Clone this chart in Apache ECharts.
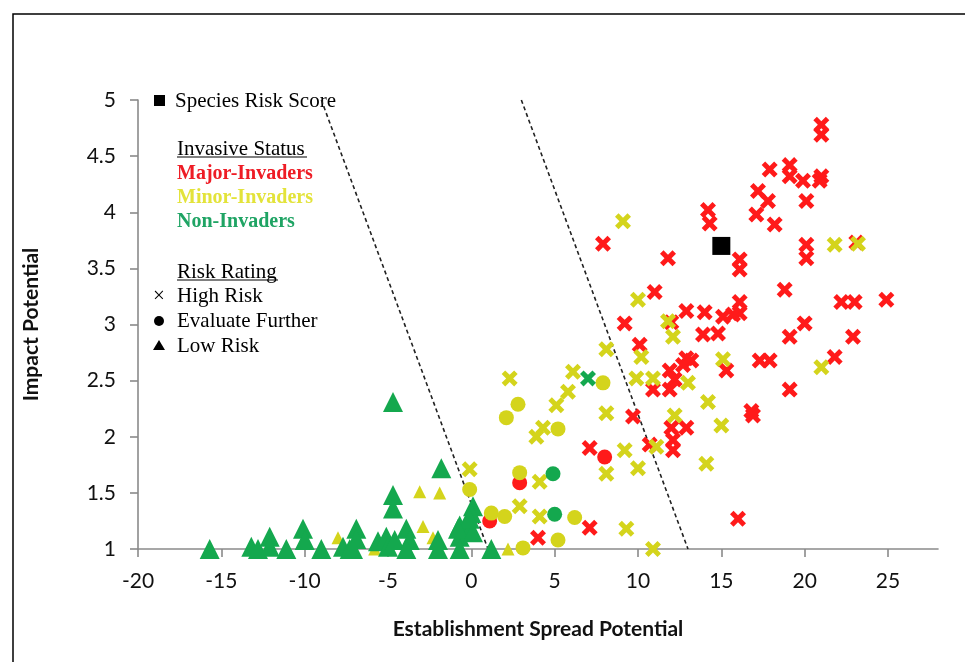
<!DOCTYPE html>
<html>
<head>
<meta charset="utf-8">
<script src="https://cdn.jsdelivr.net/npm/echarts@6/dist/echarts.min.js"></script>
<style>
html,body{margin:0;padding:0;background:#fff;}
#chart{width:965px;height:662px;}
</style>
</head>
<body>
<div id="chart"></div>
<script>
// ---- tick labels ----
const xTicks = [-20, -15, -10, -5, 0, 5, 10, 15, 20, 25];
const yTicks = [1, 1.5, 2, 2.5, 3, 3.5, 4, 4.5, 5];

// ---- threshold lines ----
const lowerThreshold = [[-9, 5], [1, 1]];
const upperThreshold = [[3, 5], [13, 1]];

// ---- species risk score ----
const speciesScore = [[15.0, 3.70]];

// ---- Major-Invaders ----
const majorHigh = [
  [21.0, 4.78], [21.0, 4.69], [17.9, 4.38], [19.1, 4.42], [19.1, 4.32], [19.9, 4.28],
  [21.0, 4.32], [20.9, 4.28], [17.2, 4.19], [17.8, 4.10], [20.1, 4.10], [17.1, 3.98],
  [18.2, 3.89], [14.2, 4.02], [14.3, 3.90], [7.9, 3.72], [11.8, 3.59], [16.1, 3.58],
  [16.1, 3.49], [20.1, 3.71], [20.1, 3.59], [11.0, 3.29], [18.8, 3.31], [16.1, 3.20],
  [16.1, 3.10], [22.2, 3.20], [23.0, 3.20], [24.9, 3.22], [9.2, 3.01], [12.9, 3.12],
  [14.0, 3.11], [15.1, 3.07], [15.7, 3.09], [13.9, 2.91], [14.8, 2.92], [20.0, 3.01],
  [19.1, 2.89], [22.9, 2.89], [10.1, 2.82], [21.8, 2.71], [12.9, 2.70], [13.2, 2.68],
  [12.7, 2.64], [17.3, 2.68], [17.9, 2.68], [15.3, 2.59], [11.9, 2.59], [12.0, 3.02],
  [12.2, 2.51], [11.9, 2.42], [10.9, 2.42], [19.1, 2.42], [9.7, 2.18], [16.8, 2.23],
  [16.9, 2.19], [12.0, 2.08], [12.9, 2.08], [12.1, 1.97], [12.1, 1.88], [10.7, 1.93],
  [16.0, 1.27], [7.1, 1.90], [7.1, 1.19], [4.0, 1.10], [23.1, 3.73]
];
const majorEval = [[8.0, 1.82], [2.9, 1.59], [1.1, 1.25]];

// ---- Minor-Invaders ----
const minorHigh = [
  [9.1, 3.92], [21.8, 3.71], [23.2, 3.72], [10.0, 3.22], [11.8, 3.03], [12.1, 2.89],
  [8.1, 2.78], [10.2, 2.71], [15.1, 2.69], [21.0, 2.62], [6.1, 2.58], [9.9, 2.52],
  [10.9, 2.52], [13.0, 2.48], [14.2, 2.31], [8.1, 2.21], [12.2, 2.19], [15.0, 2.10],
  [11.1, 1.91], [9.2, 1.88], [10.0, 1.72], [14.1, 1.76], [8.1, 1.67], [9.3, 1.18],
  [10.9, 1.00], [2.3, 2.52], [5.8, 2.40], [5.1, 2.28], [4.3, 2.08], [3.9, 2.00],
  [-0.1, 1.71], [4.1, 1.60], [2.9, 1.38], [4.1, 1.29]
];
const minorEval = [
  [7.9, 2.48], [2.8, 2.29], [2.1, 2.17], [5.2, 2.07], [2.9, 1.68], [-0.1, 1.53],
  [1.2, 1.32], [2.0, 1.29], [6.2, 1.28], [5.2, 1.08], [3.1, 1.01]
];
const minorLow = [
  [-3.1, 1.51], [-1.9, 1.50], [-2.9, 1.20], [-8.0, 1.10], [2.2, 1.00], [-5.8, 1.00], [-2.3, 1.10]
];

// ---- Non-Invaders ----
const nonHigh = [[7.0, 2.52]];
const nonEval = [[4.9, 1.67], [5.0, 1.31]];
const nonLow = [
  [-4.7, 2.31], [-1.8, 1.72], [-4.7, 1.48], [-4.7, 1.36], [0.1, 1.38], [0.0, 1.32],
  [-15.7, 1.00], [-13.2, 1.02], [-12.8, 1.00], [-12.1, 1.11], [-12.1, 1.02], [-11.1, 1.00],
  [-10.1, 1.18], [-10.0, 1.08], [-9.0, 1.00], [-7.7, 1.02], [-7.3, 1.00], [-6.9, 1.18],
  [-6.9, 1.09], [-7.1, 1.00], [-5.6, 1.07], [-5.1, 1.11], [-5.0, 1.02], [-4.6, 1.08],
  [-3.9, 1.18], [-3.7, 1.08], [-3.9, 1.00], [-2.0, 1.08], [-2.0, 1.00], [-0.7, 1.21],
  [-0.7, 1.11], [-0.7, 1.00], [-0.1, 1.17], [-0.1, 1.27], [1.2, 1.00], [-0.8, 1.18],
  [0.1, 1.15]
];

// ---- styling ----
const RED = '#ff1a1a';
const YELLOW = '#d4d41c';
const GREEN = '#14a84e';
const CROSS = 'path://M2.2,0 L5,2.8 L7.8,0 L10,2.2 L7.2,5 L10,7.8 L7.8,10 L5,7.2 L2.2,10 L0,7.8 L2.8,5 L0,2.2 Z';

function scatter(name, data, symbol, size, color) {
  return {
    name, type: 'scatter', data, symbol, symbolSize: size, clip: false,
    itemStyle: { color, opacity: 1 }, silent: true, animation: false
  };
}
function dashed(data) {
  return {
    type: 'line', data, showSymbol: false, silent: true, animation: false,
    lineStyle: { color: '#222', width: 1.6, type: [4, 3] }, z: 1
  };
}

const chart = echarts.init(document.getElementById('chart'), null, { renderer: 'canvas' });
const serif = '"Liberation Serif", "Times New Roman", serif';
const legendX = 177;
chart.setOption({
  backgroundColor: '#fff',
  animation: false,
  grid: { left: 138, right: 27, top: 100, bottom: 113, containLabel: false },
  xAxis: {
    type: 'value', min: -20, max: 28, interval: 5,
    name: 'Establishment Spread Potential', nameLocation: 'middle', nameGap: 70,
    nameTextStyle: { fontFamily: 'Lato, sans-serif', fontWeight: 'bold', fontSize: 21, color: '#111' },
    axisLine: { onZero: false, lineStyle: { color: '#8a8a8a', width: 1.6 } },
    axisTick: { show: true, length: 8, lineStyle: { color: '#8a8a8a', width: 1.6 }, customValues: xTicks },
    axisLabel: { customValues: xTicks, fontFamily: 'Lato, sans-serif', fontSize: 21, color: '#111', margin: 22 },
    splitLine: { show: false }
  },
  yAxis: {
    type: 'value', min: 1, max: 5, interval: 0.5,
    name: 'Impact Potential', nameLocation: 'middle', nameGap: 96, nameRotate: 90,
    nameTextStyle: { fontFamily: 'Lato, sans-serif', fontWeight: 'bold', fontSize: 21, color: '#111' },
    axisLine: { show: true, onZero: false, lineStyle: { color: '#8a8a8a', width: 1.6 } },
    axisTick: { show: true, length: 8, lineStyle: { color: '#8a8a8a', width: 1.6 }, customValues: yTicks },
    axisLabel: { customValues: yTicks, fontFamily: 'Lato, sans-serif', fontSize: 21, color: '#111', margin: 22 },
    splitLine: { show: false }
  },
  series: [
    dashed(lowerThreshold),
    dashed(upperThreshold),
    scatter('Minor Low', minorLow, 'triangle', 13, YELLOW),
    scatter('Non Low', nonLow, 'triangle', 20, GREEN),
    scatter('Major High', majorHigh, CROSS, 16, RED),
    scatter('Minor High', minorHigh, CROSS, 16, YELLOW),
    scatter('Major Eval', majorEval, 'circle', 15, RED),
    scatter('Minor Eval', minorEval, 'circle', 15, YELLOW),
    scatter('Non Eval', nonEval, 'circle', 15, GREEN),
    scatter('Non High', nonHigh, CROSS, 16, GREEN),
    scatter('Species Risk Score', speciesScore, 'rect', 18, '#000')
  ],
  graphic: [
    { type: 'rect', shape: { x: 13, y: 14, width: 1000, height: 700 }, style: { fill: 'none', stroke: '#000', lineWidth: 1.5 }, silent: true },
    { type: 'rect', shape: { x: 154, y: 95, width: 11, height: 11 }, style: { fill: '#000' } },
    { type: 'text', x: 175, y: 101, style: { text: 'Species Risk Score', font: '21px ' + serif, fill: '#000', verticalAlign: 'middle' } },
    { type: 'text', x: legendX, y: 149, style: { text: 'Invasive Status', font: '21px ' + serif, fill: '#000', verticalAlign: 'middle' } },
    { type: 'line', shape: { x1: legendX, y1: 157, x2: 307, y2: 157 }, style: { stroke: '#000', lineWidth: 1.2 } },
    { type: 'text', x: legendX, y: 174, style: { text: 'Major-Invaders', font: 'bold 20px ' + serif, fill: '#ee1c25', verticalAlign: 'middle' } },
    { type: 'text', x: legendX, y: 198, style: { text: 'Minor-Invaders', font: 'bold 20px ' + serif, fill: '#e3e33a', verticalAlign: 'middle' } },
    { type: 'text', x: legendX, y: 222, style: { text: 'Non-Invaders', font: 'bold 20px ' + serif, fill: '#1fa464', verticalAlign: 'middle' } },
    { type: 'text', x: legendX, y: 272, style: { text: 'Risk Rating', font: '21px ' + serif, fill: '#000', verticalAlign: 'middle' } },
    { type: 'line', shape: { x1: legendX, y1: 280, x2: 278, y2: 280 }, style: { stroke: '#000', lineWidth: 1.2 } },
    { type: 'text', x: 153, y: 296, style: { text: '×', font: '21px ' + serif, fill: '#000', verticalAlign: 'middle' } },
    { type: 'text', x: legendX, y: 296, style: { text: 'High Risk', font: '21px ' + serif, fill: '#000', verticalAlign: 'middle' } },
    { type: 'circle', shape: { cx: 159, cy: 321, r: 5 }, style: { fill: '#000' } },
    { type: 'text', x: legendX, y: 321, style: { text: 'Evaluate Further', font: '21px ' + serif, fill: '#000', verticalAlign: 'middle' } },
    { type: 'polygon', shape: { points: [[159, 340], [165, 350], [153, 350]] }, style: { fill: '#000' } },
    { type: 'text', x: legendX, y: 346, style: { text: 'Low Risk', font: '21px ' + serif, fill: '#000', verticalAlign: 'middle' } }
  ]
});
</script>
</body>
</html>
